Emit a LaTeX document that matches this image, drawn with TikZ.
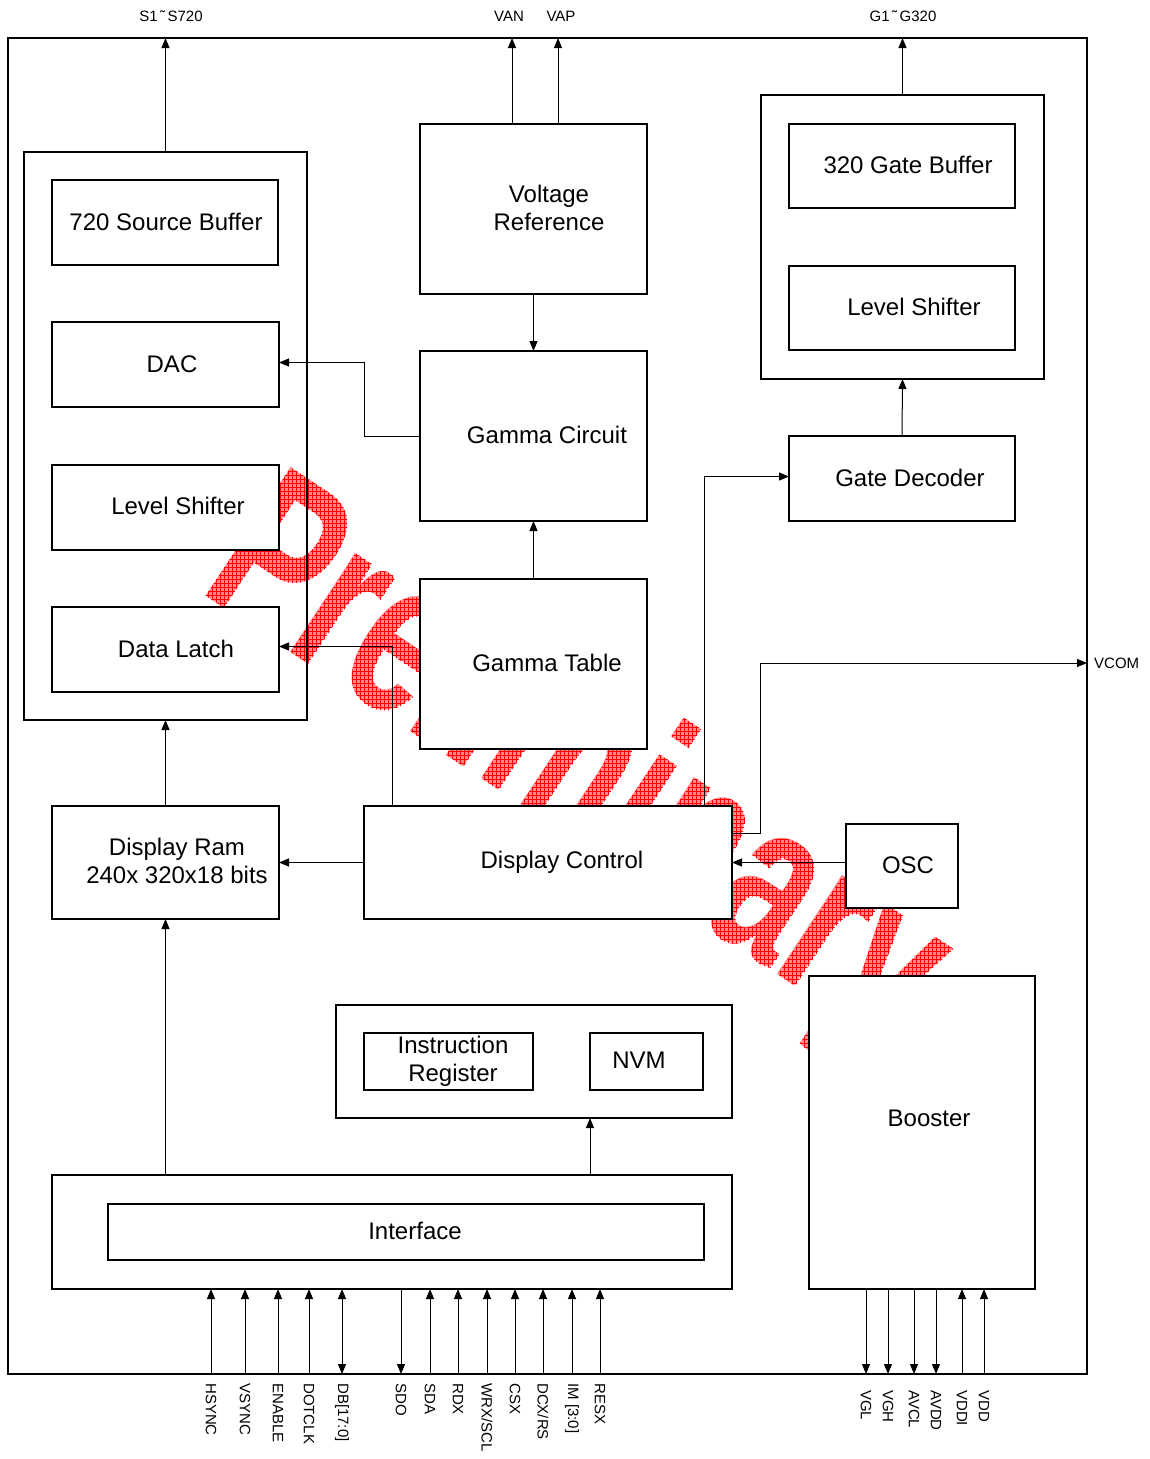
\documentclass[tikz,border=0pt]{standalone}
\usepackage{fontspec}
\setmainfont{Liberation Sans}
\usetikzlibrary{arrows.meta,patterns}
\pgfdeclarepatternformonly{wmgrid}{\pgfqpoint{-0.5pt}{-0.5pt}}{\pgfqpoint{4.5pt}{4.5pt}}{\pgfqpoint{4pt}{4pt}}{%
  \pgfsetlinewidth{0.55pt}%
  \pgfpathmoveto{\pgfqpoint{0pt}{0pt}}\pgfpathlineto{\pgfqpoint{4.2pt}{0pt}}%
  \pgfpathmoveto{\pgfqpoint{0pt}{0pt}}\pgfpathlineto{\pgfqpoint{0pt}{4.2pt}}%
  \pgfusepath{stroke}}
\newcommand{\blk}[6][box]{\node[#1,minimum width={#5-#3},minimum height={#6-#4}] (#2) at (#3,#4) {};}
\newcommand{\wmtext}{\scalebox{0.68}[1]{Preliminary}}
\begin{document}
\begin{tikzpicture}[x=1pt,y=-1pt,
  >={Triangle[length=10pt,width=8pt]},
  box/.style={draw,line width=1.1pt,fill=white,inner sep=0pt,outer sep=0pt,anchor=north west},
  panel/.style={draw,line width=1.1pt,inner sep=0pt,outer sep=0pt,anchor=north west},
  lbl/.style={font=\fontsize{24}{28}\selectfont,align=center,inner sep=0pt},
  sig/.style={font=\fontsize{15}{18}\selectfont,inner sep=0pt},
  conn/.style={line width=1pt},
  wmark/.style={rotate=-33.5,anchor=base west,inner sep=0pt,font=\fontsize{224}{224}\selectfont\bfseries},
]
\useasboundingbox (0,0) rectangle (1150,1459);
% watermark
\node[wmark] (wm) at (197,590) {\rlap{\color{red!45}\wmtext}{\pgfsetfillpattern{wmgrid}{red}\wmtext}};
% frame and panels
\blk[panel]{frame}{8}{38}{1087}{1374}
\blk[panel]{srcpanel}{24}{152}{307}{720}
\blk[panel]{gpanel}{761}{95}{1044}{379}
\blk[panel]{ipanel}{336}{1005}{732}{1118}
\blk[panel]{ifout}{52}{1175}{732}{1289}
% boxes
\blk{sbuf}{52}{180}{278}{265}
\blk{dac}{52}{322}{279}{407}
\blk{lsh}{52}{465}{279}{550}
\blk{dl}{52}{607}{279}{692}
\blk{vref}{420}{124}{647}{294}
\blk{gc}{420}{351}{647}{521}
\blk{gt}{420}{579}{647}{749}
\blk{dc}{364}{806}{732}{919}
\blk{dram}{52}{806}{279}{919}
\blk{osc}{846}{824}{958}{908}
\blk{gbuf}{789}{124}{1015}{208}
\blk{glsh}{789}{266}{1015}{350}
\blk{gd}{789}{436}{1015}{521}
\blk{ir}{364}{1033}{533}{1090}
\blk{nvm}{590}{1033}{703}{1090}
\blk{ifin}{108}{1204}{704}{1260}
\blk{boost}{809}{976}{1035}{1289}
% texts
\node[lbl] (t1) at (166,222) {720 Source Buffer};
\node[lbl] (t2) at (172,364) {DAC};
\node[lbl] (t3) at (178,506) {Level Shifter};
\node[lbl] (t4) at (176,649) {Data Latch};
\node[lbl] (t5) at (549,208) {Voltage\\Reference};
\node[lbl] (t6) at (547,435) {Gamma Circuit};
\node[lbl] (t7) at (547,663) {Gamma Table};
\node[lbl] (t8) at (562,862) {Display Control};
\node[lbl] (t9) at (177,861) {Display Ram\\240x 320x18 bits};
\node[lbl] (t10) at (908,865) {OSC};
\node[lbl] (t11) at (908,165) {320 Gate Buffer};
\node[lbl] (t12) at (914,307) {Level Shifter};
\node[lbl] (t13) at (910,478) {Gate Decoder};
\node[lbl] (t14) at (453,1061) {Instruction\\Register};
\node[lbl] (t15) at (639,1060) {NVM};
\node[lbl] (t16) at (415,1231) {Interface};
\node[lbl] (t17) at (929,1118) {Booster};
% top labels
\node[sig] (ls) at (171,16) {S1\,˜\,S720};
\node[sig] (lvan) at (509,16) {VAN};
\node[sig] (lvap) at (561,16) {VAP};
\node[sig] (lg) at (903,16) {G1\,˜\,G320};
\node[sig,anchor=west] (vcom) at (1094,663) {VCOM};
% connectors
\draw[conn,->] (srcpanel.north) -- (srcpanel.north |- frame.north);
\draw[conn,->] ([xshift=92pt]vref.north west) -- ([xshift=92pt]vref.north west |- frame.north);
\draw[conn,->] ([xshift=138pt]vref.north west) -- ([xshift=138pt]vref.north west |- frame.north);
\draw[conn,->] (gpanel.north) -- (gpanel.north |- frame.north);
\draw[conn,->] (vref.south) -- (gc.north);
\draw[conn,->] (gc.west) -- ++(-56,0) |- ([yshift=2pt]dac.east);
\draw[conn,->] (gt.north) -- (gc.south);
\draw[conn,->] ([xshift=28pt]dc.north west) |- ([yshift=3pt]dl.east);
\draw[conn,->] (dc.west) -- (dram.east);
\draw[conn,->] (dram.north) -- (srcpanel.south);
\draw[conn,->] (ifout.north -| dram.south) -- (dram.south);
\draw[conn,->] (ifout.north -| nvm.south west) -- (ipanel.south -| nvm.south west);
\draw[conn,->] (osc.west |- dc.east) -- (dc.east);
\coordinate (vc) at (760,663);
\coordinate (vcomtip) at (1087,663);
\draw[conn,->] ([yshift=-27pt]dc.north east) -| (vc) -- (vcomtip);
\draw[conn,->] ([xshift=-28pt]dc.north east) |- ([yshift=2pt]gd.west);
\draw[conn,->] (gd.north) -- (gpanel.south);
% bottom signals
\foreach \x/\t/\a [count=\i] in {211/HSYNC/->,245/VSYNC/->,278/ENABLE/->,309/DOTCLK/->,342/{DB[17:0]}/<->,401/SDO/<-,430/SDA/->,458/RDX/->,487/{WRX\slash SCL}/->,515/CSX/->,543/{DCX\slash RS}/->,572/{IM [3:0]}/->,600/RESX/->}{
  \coordinate (s\i) at (\x,1374);
  \draw[conn,\a] (s\i) -- (s\i |- ifout.south);
  \node[sig,rotate=-90,anchor=west] (sl\i) at ([yshift=-9pt]s\i) {\t};
}
\foreach \x/\t/\a [count=\i] in {866/VGL/<-,888/VGH/<-,914/AVCL/<-,936/AVDD/<-,962/VDDI/->,984/VDD/->}{
  \coordinate (b\i) at (\x,1374);
  \draw[conn,\a] (b\i) -- (b\i |- boost.south);
  \node[sig,rotate=-90,anchor=west] (bl\i) at ([yshift=-16pt]b\i) {\t};
}
\end{tikzpicture}
\end{document}
